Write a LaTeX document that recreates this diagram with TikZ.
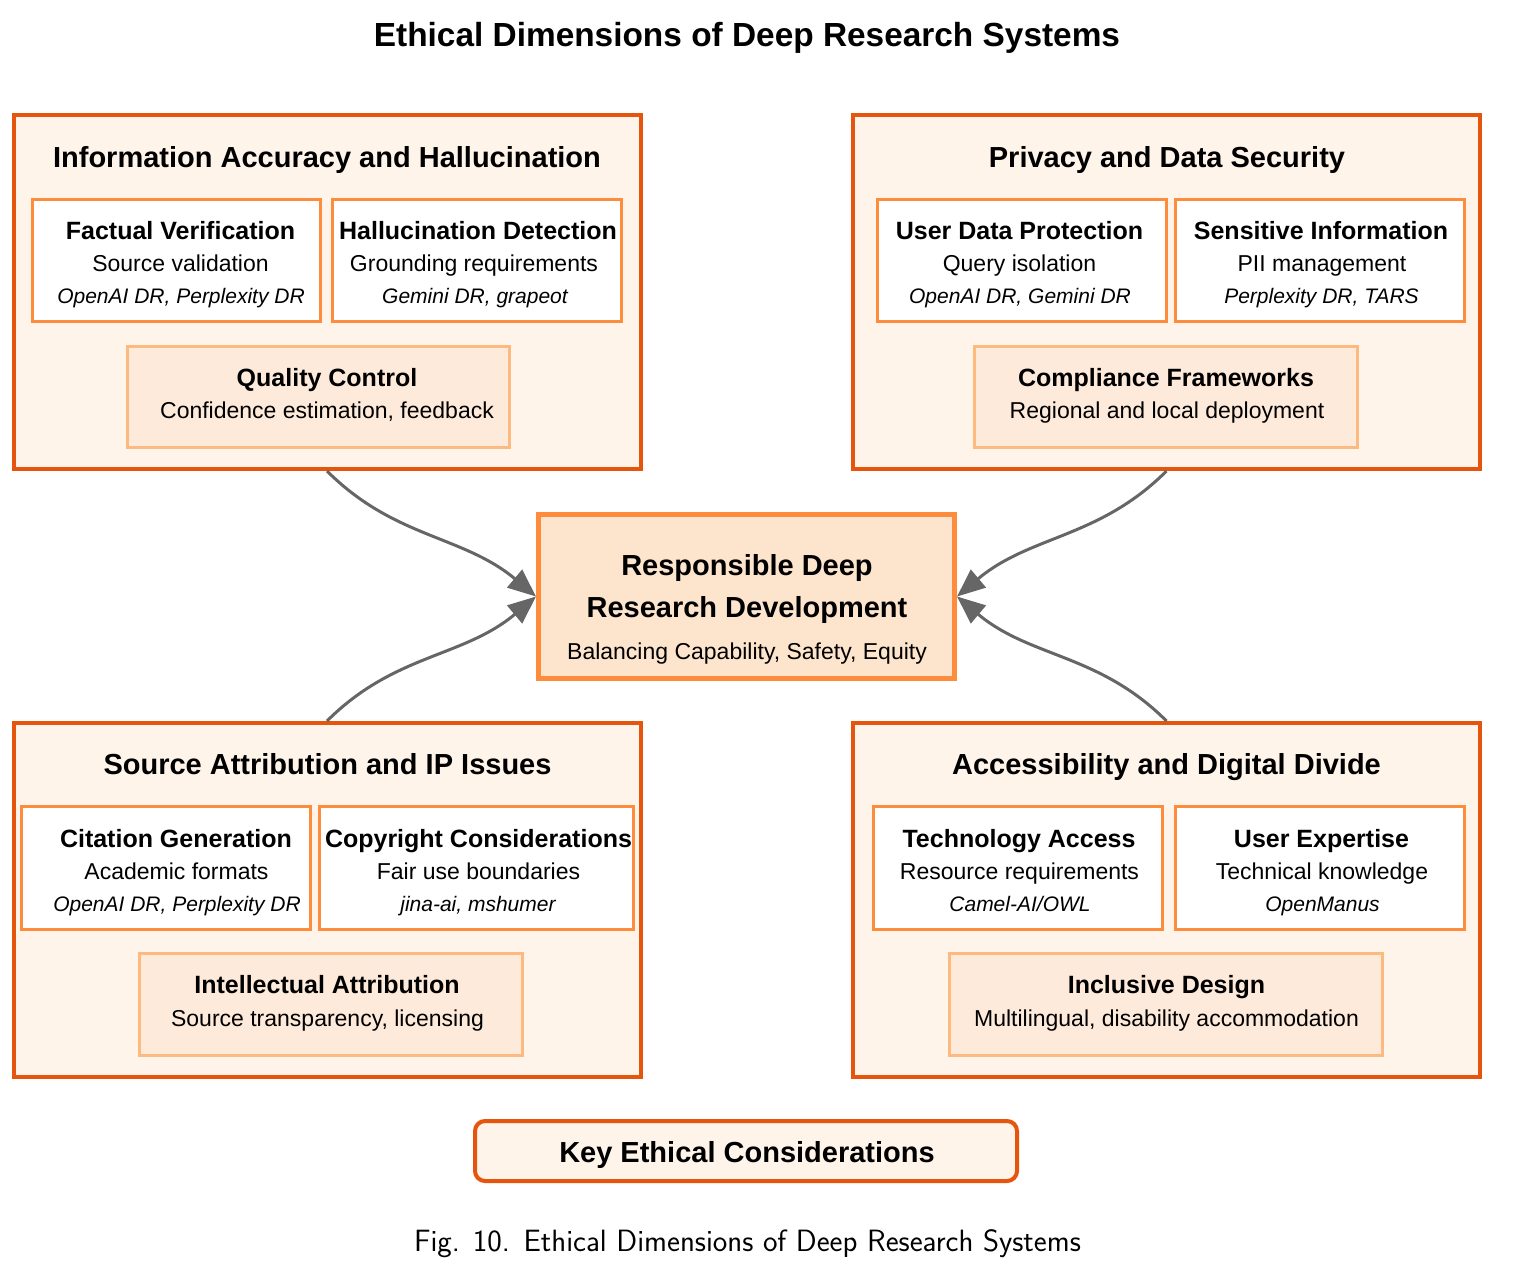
\documentclass[tikz,border=0pt]{standalone}
\usepackage{fontspec}
\setmainfont{Liberation Sans}
\usetikzlibrary{arrows.meta}
\definecolor{dkor}{HTML}{E6550D}
\definecolor{midor}{HTML}{FD8D3C}
\definecolor{lightor}{HTML}{FDBA80}
\definecolor{panelfill}{HTML}{FFF4EA}
\definecolor{lowfill}{HTML}{FDEADA}
\definecolor{centerfill}{HTML}{FDE5CD}
\definecolor{arrgray}{HTML}{666666}
\tikzset{
  panel/.style={draw=dkor, line width=4pt, fill=panelfill, minimum width=627pt, minimum height=354pt, inner sep=0pt},
  subbox/.style={draw=midor, line width=3pt, fill=white, inner sep=0pt},
  lowbox/.style={draw=lightor, line width=3pt, fill=lowfill, inner sep=0pt},
  centerbox/.style={draw=midor, line width=5pt, fill=centerfill, inner sep=0pt, minimum width=416pt, minimum height=164pt},
  keybox/.style={draw=dkor, line width=4pt, fill=panelfill, rounded corners=10pt, inner sep=0pt, minimum width=542pt, minimum height=60pt},
  maintitle/.style={inner sep=0pt, text height=23.6pt, text depth=0pt, font=\fontsize{33.4}{40}\selectfont\bfseries},
  ptitle/.style={inner sep=0pt, text height=20.8pt, text depth=0pt, font=\fontsize{29}{34}\selectfont\bfseries},
  head/.style={inner sep=0pt, text height=17.9pt, text depth=0pt, font=\fontsize{25}{30}\selectfont\bfseries},
  norm/.style={inner sep=0pt, text height=16.5pt, text depth=0pt, font=\fontsize{23}{28}\selectfont},
  ital/.style={inner sep=0pt, text height=15pt, text depth=0pt, font=\fontsize{21}{25}\selectfont\itshape},
  capt/.style={inner sep=0pt, text height=21pt, text depth=0pt, font=\sffamily\fontsize{30.8}{36}\selectfont},
  link/.style={draw=arrgray, line width=3pt, -{Triangle[length=28pt,width=23pt]}}
}
\begin{document}
\begin{tikzpicture}[x=1pt,y=1pt]
\useasboundingbox (0,0) rectangle (1521,-1278);

\node[maintitle] (title) at (747,-35) {Ethical Dimensions of Deep Research Systems};

% panels
\node[panel] (tl) at (327,-292) {};
\node[panel] (tr) at (1166.5,-292) {};
\node[panel] (bl) at (327,-900) {};
\node[panel] (br) at (1166.5,-900) {};

% ---------- top left ----------
\node[ptitle] (tlT) at (327,-157) {Information Accuracy and Hallucination};
\node[subbox, minimum width=288pt, minimum height=122pt] (fv) at (176.5,-260.5) {};
\node[subbox, minimum width=289pt, minimum height=122pt] (hd) at (477,-260.5) {};
\node[lowbox, minimum width=382pt, minimum height=101pt] (qc) at (318.5,-397) {};
\node[head] (fv1) at (180.5,-231) {Factual Verification};
\node[norm] (fv2) at (180.5,-263) {Source validation};
\node[ital] (fv3) at (181,-296) {OpenAI DR, Perplexity DR};
\node[head] (hd1) at (478,-231) {Hallucination Detection};
\node[norm] (hd2) at (474,-263) {Grounding requirements};
\node[ital] (hd3) at (475,-296) {Gemini DR, grapeot};
\node[head] (qc1) at (327,-378) {Quality Control};
\node[norm] (qc2) at (327,-410) {Confidence estimation, feedback};

% ---------- top right ----------
\node[ptitle] (trT) at (1167,-157) {Privacy and Data Security};
\node[subbox, minimum width=289pt, minimum height=122pt] (ud) at (1022,-260.5) {};
\node[subbox, minimum width=289pt, minimum height=122pt] (si) at (1320,-260.5) {};
\node[lowbox, minimum width=383pt, minimum height=101pt] (cf) at (1166,-397) {};
\node[head] (ud1) at (1019.5,-231) {User Data Protection};
\node[norm] (ud2) at (1019.5,-263) {Query isolation};
\node[ital] (ud3) at (1020,-296) {OpenAI DR, Gemini DR};
\node[head] (si1) at (1321,-231) {Sensitive Information};
\node[norm] (si2) at (1322,-263) {PII management};
\node[ital] (si3) at (1321.5,-296) {Perplexity DR, TARS};
\node[head] (cf1) at (1166,-378) {Compliance Frameworks};
\node[norm] (cf2) at (1167,-410) {Regional and local deployment};

% ---------- bottom left ----------
\node[ptitle] (blT) at (327.5,-764) {Source Attribution and IP Issues};
\node[subbox, minimum width=289pt, minimum height=123pt] (cg) at (166,-868) {};
\node[subbox, minimum width=314pt, minimum height=123pt] (cc) at (476.5,-868) {};
\node[lowbox, minimum width=383pt, minimum height=102pt] (ia) at (331,-1004.5) {};
\node[head] (cg1) at (176,-839) {Citation Generation};
\node[norm] (cg2) at (176.5,-871) {Academic formats};
\node[ital] (cg3) at (177,-904) {OpenAI DR, Perplexity DR};
\node[head] (cc1) at (478.5,-839) {Copyright Considerations};
\node[norm] (cc2) at (478.5,-871) {Fair use boundaries};
\node[ital] (cc3) at (478,-904) {jina-ai, mshumer};
\node[head] (ia1) at (327,-985) {Intellectual Attribution};
\node[norm] (ia2) at (327.5,-1018) {Source transparency, licensing};

% ---------- bottom right ----------
\node[ptitle] (brT) at (1166.5,-764) {Accessibility and Digital Divide};
\node[subbox, minimum width=289pt, minimum height=123pt] (ta) at (1018,-868) {};
\node[subbox, minimum width=289pt, minimum height=123pt] (ue) at (1320,-868) {};
\node[lowbox, minimum width=433pt, minimum height=102pt] (idn) at (1166,-1004.5) {};
\node[head] (ta1) at (1019,-839) {Technology Access};
\node[norm] (ta2) at (1019.5,-871) {Resource requirements};
\node[ital] (ta3) at (1020,-904) {Camel-AI/OWL};
\node[head] (ue1) at (1321.5,-839) {User Expertise};
\node[norm] (ue2) at (1322,-871) {Technical knowledge};
\node[ital] (ue3) at (1322.5,-904) {OpenManus};
\node[head] (id1) at (1166.5,-985) {Inclusive Design};
\node[norm] (id2) at (1166.5,-1018) {Multilingual, disability accommodation};

% ---------- centre ----------
\node[centerbox] (ctr) at (746.5,-596.5) {};
\node[ptitle] (c1) at (747,-565) {Responsible Deep};
\node[ptitle] (c2) at (747,-607) {Research Development};
\node[norm] (c3) at (747,-651) {Balancing Capability, Safety, Equity};

% ---------- connectors ----------
\draw[link] (tl.south) to[out=-45,in=140] (ctr.west);
\draw[link] (bl.north) to[out=45,in=-140] (ctr.west);
\draw[link] (tr.south) to[out=-135,in=40] (ctr.east);
\draw[link] (br.north) to[out=135,in=-40] (ctr.east);

% ---------- key ----------
\node[keybox] (key) at (746,-1151) {};
\node[ptitle] (key1) at (747,-1152) {Key Ethical Considerations};

\node[capt] (caption) at (747.5,-1241) {Fig. 10.\hspace{0.45em}Ethical Dimensions of Deep Research Systems};
\end{tikzpicture}
\end{document}
